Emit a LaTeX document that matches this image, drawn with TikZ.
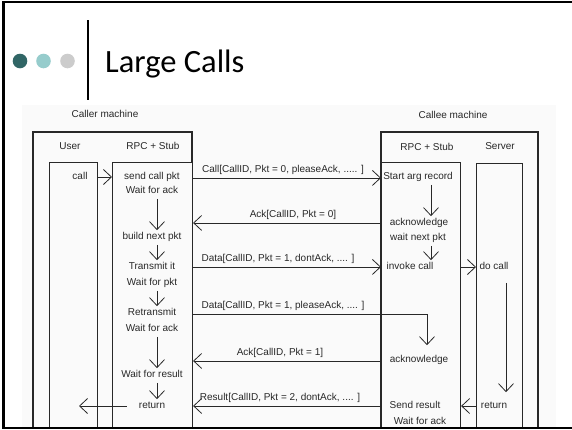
\documentclass[tikz,border=0pt]{standalone}
\usepackage{fontspec}
\setmainfont{Liberation Sans}
\newfontfamily\titlefont{Carlito}
\usepackage{tikz}
\usetikzlibrary{calc}
\usetikzlibrary{arrows.meta}
\definecolor{darkteal}{RGB}{49,102,102}
\definecolor{lightteal}{RGB}{150,204,204}
\definecolor{lightgrey}{RGB}{204,204,204}
\definecolor{scanink}{RGB}{40,40,40}
\tikzset{
  lane/.style={draw=scanink, line width=1.1pt, anchor=north west, inner sep=0pt},
  outer/.style={draw=scanink, line width=1.8pt},
  txt/.style={font=\fontsize{10}{12}\selectfont, text=scanink, inner sep=1pt, text height=7.2pt, text depth=2.1pt},
  lbl/.style={txt, inner sep=0pt, outer ysep=3.3pt},
  flow/.style={draw=scanink, line width=0.8pt, -{Straight Barb[length=8pt,width=15pt]}},
  down/.style={flow, shorten <=2pt, shorten >=1pt},
}
\newcommand{\titledot}[3]{ \node[shape=circle, fill=#2, inner sep=0pt, minimum size=14.6pt] (#3) at ( #1 , 61 ){};}
\newcommand{\lanebox}[5]{ \node[lane, minimum width=#3, minimum height=#4] (#5) at ( #1 , #2 ){};}

\begin{document}
\begin{tikzpicture}[x=1pt,y=-1pt]
        \useasboundingbox (0,0) rectangle (572,429);
        \fill[black!2] (22,105) rectangle (556,429);

        % title
        \titledot{20}{darkteal}{dotA}
        \titledot{43.5}{lightteal}{dotB}
        \titledot{67.5}{lightgrey}{dotC}
        \draw[line width=2.5pt] (88,20) -- (88,100);
        \node[anchor=base west, inner sep=0pt, font=\titlefont\fontsize{32.5}{36}\selectfont] (title) at (105,72.5) {Large Calls};

        % caller machine
        \node[txt] (caller) at (105,115) {Caller machine};
        \draw[outer] (33,428) -- (33,132) -- (192,132) -- (192,162);
        \node[txt] (userhead) at (70,147) {User};
        \node[txt] (stubheadA) at (153,147) {RPC + Stub};
        \lanebox{49}{162}{48pt}{266pt}{userlane}
        \lanebox{112}{162}{80pt}{266pt}{callerlane}
        \coordinate (callarr) at (157,0);
        \coordinate (back) at (79,406);

        \node[txt] (call) at (80,177) {call};
        \node[txt] (sendpkt) at (152,177) {send call pkt};
        \node[txt] (waitack) at (152,191) {Wait for ack};
        \node[txt] (buildpkt) at (152,237) {build next pkt};
        \node[txt] (transmit) at (152,267) {Transmit it};
        \node[txt] (waitpkt) at (152,283) {Wait for pkt};
        \node[txt] (retrans) at (152,313) {Retransmit};
        \node[txt] (waitackB) at (152,329) {Wait for ack};
        \node[txt] (waitres) at (152,375) {Wait for result};
        \node[txt] (ret) at (152,406) {return};

        \draw[flow] (userlane.east |- call) -- (callerlane.west |- call);
        \draw[down] (waitack.south -| callarr) -- (buildpkt.north -| callarr);
        \draw[down] (buildpkt.south -| callarr) -- (transmit.north -| callarr);
        \draw[down] (waitpkt.south -| callarr) -- (retrans.north -| callarr);
        \draw[down] (waitackB.south -| callarr) -- (waitres.north -| callarr);
        \draw[down] (waitres.south -| callarr) -- (ret.north -| callarr);
        \draw[flow, shorten <=11pt] (ret.west) -- (back |- ret.west);

        % callee machine
        \node[txt] (callee) at (453,116) {Callee machine};
        \draw[outer] (381,428) -- (381,132) -- (538,132) -- (538,428);
        \node[txt] (stubheadB) at (427,148) {RPC + Stub};
        \node[txt] (serverhead) at (500,147) {Server};
        \lanebox{381}{162}{79pt}{266pt}{calleelane}
        \lanebox{476}{163}{46pt}{265pt}{srvlane}
        \coordinate (calleearr) at (431,0);
        \coordinate (turn) at (427,0);
        \coordinate (srvarr) at (506,0);

        \node[txt] (startarg) at (418,177) {Start arg record};
        \node[txt] (ackA) at (419,223) {acknowledge};
        \node[txt] (waitnext) at (418,238) {wait next pkt};
        \node[txt] (invoke) at (410,267) {invoke call};
        \node[txt] (ackB) at (419,360) {acknowledge};
        \node[txt] (sendres) at (415,406) {Send result};
        \node[txt] (waitackC) at (420,422) {Wait for ack};
        \node[txt] (docall) at (494,267) {do call};
        \node[txt] (sret) at (494,406) {return};

        \draw[down] (startarg.south -| calleearr) -- (ackA.north -| calleearr);
        \draw[down] (waitnext.south -| calleearr) -- (invoke.north -| calleearr);
        \draw[flow] (calleelane.east |- invoke) -- (srvlane.west |- invoke);
        \draw[down, shorten <=10pt, shorten >=8pt] (docall.south -| srvarr) -- (sret.north -| srvarr);
        \draw[flow] (srvlane.west |- sret) -- (calleelane.east |- sret);

        % messages
        \node[lbl] (m1) at (283,170) {Call[CallID, Pkt = 0, pleaseAck, ..... ]};
        \node[lbl] (m2) at (293,215) {Ack[CallID, Pkt = 0]};
        \node[lbl] (m3) at (278,259) {Data[CallID, Pkt = 1, dontAck, .... ]};
        \node[lbl] (m4) at (283,306) {Data[CallID, Pkt = 1, pleaseAck, .... ]};
        \node[lbl] (m5) at (280,353) {Ack[CallID, Pkt = 1]};
        \node[lbl] (m6) at (280,398) {Result[CallID, Pkt = 2, dontAck, .... ]};
        \draw[flow] (callerlane.east |- m1.south) -- (calleelane.west |- m1.south);
        \draw[flow] (calleelane.west |- m2.south) -- (callerlane.east |- m2.south);
        \draw[flow] (callerlane.east |- m3.south) -- (calleelane.west |- m3.south);
        \draw[flow, shorten >=9pt] (callerlane.east |- m4.south) -| (turn |- ackB.north);
        \draw[flow] (calleelane.west |- m5.south) -- (callerlane.east |- m5.south);
        \draw[flow] (calleelane.west |- m6.south) -- (callerlane.east |- m6.south);

        % slide frame
        \draw[line width=2.5pt] (572,2) -- (3.5,2) -- (3.5,428) -- (572,428);
    \end{tikzpicture}
\end{document}
